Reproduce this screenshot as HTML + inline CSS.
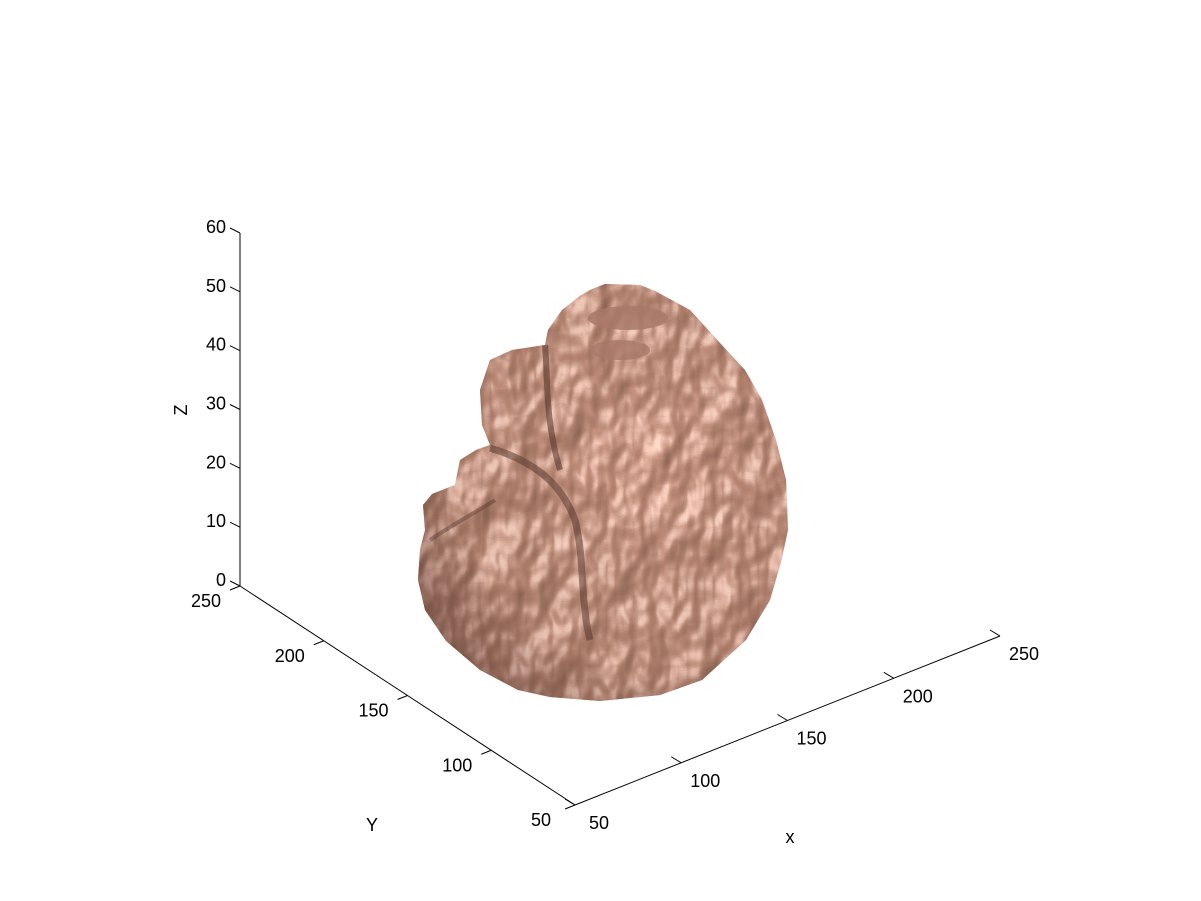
<!DOCTYPE html>
<html><head><meta charset="utf-8"><style>
html,body{margin:0;padding:0;background:#fff;}
svg{display:block;font-family:"Liberation Sans",sans-serif;}
</style></head><body>
<svg width="1201" height="901" viewBox="0 0 1201 901">
<defs>
<filter id="bump" x="0" y="0" width="100%" height="100%">
<feTurbulence type="fractalNoise" baseFrequency="0.028 0.018" numOctaves="3" seed="7" result="n"/>
<feSpecularLighting in="n" surfaceScale="7" specularConstant="1.0" specularExponent="22" lighting-color="#fff0e8" result="spec">
<feDistantLight azimuth="235" elevation="45"/>
</feSpecularLighting>
<feDiffuseLighting in="n" surfaceScale="6" diffuseConstant="0.95" lighting-color="#dca088" result="diff">
<feDistantLight azimuth="235" elevation="50"/>
</feDiffuseLighting>
<feComposite in="spec" in2="diff" operator="arithmetic" k2="0.5" k3="1" result="lit"/>
<feComposite in="lit" in2="SourceGraphic" operator="in"/>
</filter>
<radialGradient id="shade" cx="0.62" cy="0.42" r="0.7">
<stop offset="0" stop-color="#000" stop-opacity="0"/>
<stop offset="0.7" stop-color="#3a2018" stop-opacity="0.12"/>
<stop offset="1" stop-color="#3a2018" stop-opacity="0.5"/>
</radialGradient>
<clipPath id="brainclip"><path id="bp" d="M590,290 L605,284 L640,285 L655,291 L690,310 L720,343 L745,370 L762,400 L776,440 L786,480 L788,530 L781,562 L770,600 L746,640 L702,680 L660,695 L600,701 L550,697 L518,690 L480,670 L446,641 L425,610 L418,580 L420,550 L425,530 L423,505 L432,494 L455,485 L460,460 L476,450 L490,445 L482,425 L480,390 L490,360 L512,350 L545,345 L548,330 L562,310 L580,296 Z"/></clipPath>
</defs>

<g>
<use href="#bp" fill="#c08a76"/>
<g clip-path="url(#brainclip)">
<rect x="410" y="280" width="390" height="430" fill="#c08a76" filter="url(#bump)"/>
<rect x="410" y="280" width="390" height="430" fill="url(#shade)"/>
<ellipse cx="628" cy="318" rx="40" ry="12" fill="#a87868" opacity="0.85"/>
<ellipse cx="620" cy="350" rx="30" ry="10" fill="#a87868" opacity="0.8"/>
<path d="M545,345 C548,380 545,420 560,470" stroke="#5a3a30" stroke-width="6" fill="none" opacity="0.6"/>
<path d="M490,448 C530,460 560,480 575,520 C585,560 580,600 590,640" stroke="#5a3a30" stroke-width="7" fill="none" opacity="0.55"/>
<path d="M430,540 C460,520 480,510 495,500" stroke="#5a3a30" stroke-width="4" fill="none" opacity="0.45"/>
</g>
</g>

<g stroke="#000" stroke-width="1" fill="none">
<line x1="240" y1="233" x2="240" y2="586"/>
<line x1="240" y1="586" x2="575" y2="805"/>
<line x1="575" y1="805" x2="1000" y2="636"/>
<g id="ticks"></g>
</g>
<g id="labels" font-size="18" fill="#000"></g>
<text x="790" y="843" font-size="18" text-anchor="middle">x</text>
<text x="372" y="831" font-size="18" text-anchor="middle">Y</text>
<text x="187" y="410" font-size="18" text-anchor="middle" transform="rotate(-90 187 410)">Z</text>
</svg>
<script>
var zTicks=[0,10,20,30,40,50,60];
var yTicks=[50,100,150,200,250];
var xTicks=[50,100,150,200,250];
var NS="http://www.w3.org/2000/svg";
function zPos(v){return {x:240,y:586-(v/60)*353};}
function yPos(v){var t=(250-v)/200;return {x:240+t*335,y:586+t*219};}
function xPos(v){var t=(v-50)/200;return {x:575+t*425,y:805-t*169};}
var tg=document.getElementById('ticks'),lg=document.getElementById('labels');
function tick(p,dx,dy,name){var l=document.createElementNS(NS,'line');
l.setAttribute('x1',p.x);l.setAttribute('y1',p.y);l.setAttribute('x2',p.x+dx);l.setAttribute('y2',p.y+dy);


tg.appendChild(l);}
function label(x,y,txt,anchor,name){var t=document.createElementNS(NS,'text');
t.setAttribute('x',x);t.setAttribute('y',y);t.setAttribute('text-anchor',anchor);t.textContent=txt;


lg.appendChild(t);}
zTicks.forEach(function(v){var p=zPos(v);tick(p,-10,-5,'z-tick');label(p.x-14,p.y,String(v),'end','z-tick-label');});
yTicks.forEach(function(v){var p=yPos(v);tick(p,-10,4,'y-tick');label(p.x-34,p.y+21,String(v),'middle','y-tick-label');});
xTicks.forEach(function(v){var p=xPos(v);tick(p,-10,-6,'x-tick');label(p.x+24,p.y+24,String(v),'middle','x-tick-label');});
</script>
</body></html>
